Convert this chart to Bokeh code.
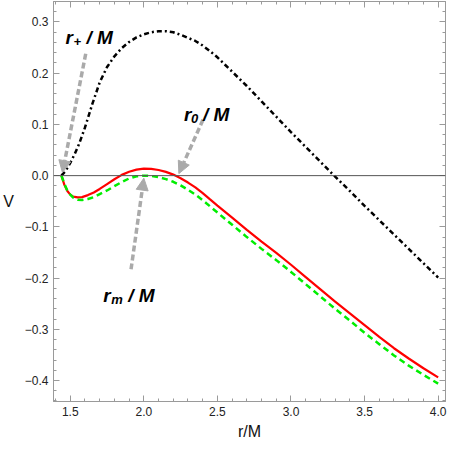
from bokeh.plotting import figure
from bokeh.models import (Range1d, LinearAxis, SingleIntervalTicker, CustomJSTickFormatter,
                          Span, Arrow, NormalHead, Label)
from bokeh.embed import file_html
from bokeh.resources import INLINE

# ---- data ----
r_black = [1.44, 1.47, 1.50, 1.53, 1.56, 1.60, 1.65, 1.70, 1.75, 1.80, 1.85, 1.90, 1.95,
           2.00, 2.05, 2.10, 2.15, 2.20, 2.25, 2.30, 2.35, 2.40, 2.45, 2.50, 2.55, 2.60,
           2.70, 2.80, 2.90, 3.00, 3.10, 3.20, 3.30, 3.40, 3.50, 3.60, 3.70, 3.80, 3.90, 4.00]
v_black = [0.000, 0.010, 0.025, 0.042, 0.062, 0.094, 0.140, 0.182, 0.212, 0.233, 0.249, 0.261, 0.270,
           0.276, 0.280, 0.282, 0.282, 0.280, 0.275, 0.269, 0.263, 0.254, 0.243, 0.231, 0.217, 0.203,
           0.175, 0.145, 0.115, 0.085, 0.056, 0.027, -0.002, -0.030, -0.059, -0.087, -0.115, -0.143, -0.171, -0.199]

r_red = [1.44, 1.46, 1.48, 1.50, 1.52, 1.55, 1.58, 1.62, 1.66, 1.70, 1.75, 1.80, 1.85, 1.90, 1.95,
         2.00, 2.05, 2.10, 2.15, 2.20, 2.25, 2.30, 2.35, 2.40, 2.45, 2.50, 2.60, 2.70, 2.80, 2.90,
         3.00, 3.10, 3.20, 3.30, 3.40, 3.50, 3.60, 3.70, 3.80, 3.90, 4.00]
v_red = [0.000, -0.018, -0.030, -0.037, -0.041, -0.0425, -0.042, -0.038, -0.033, -0.026, -0.0165, -0.007,
         0.0015, 0.0075, 0.0118, 0.0138, 0.0133, 0.011, 0.0073, 0.002, -0.005, -0.0135, -0.023, -0.0343,
         -0.0465, -0.0585, -0.082, -0.106, -0.129, -0.151, -0.174, -0.198, -0.222, -0.246, -0.269, -0.292,
         -0.315, -0.337, -0.357, -0.376, -0.394]

r_green = [1.44, 1.46, 1.48, 1.50, 1.52, 1.55, 1.58, 1.62, 1.66, 1.70, 1.75, 1.80, 1.85, 1.90, 1.95,
           2.00, 2.05, 2.10, 2.15, 2.20, 2.25, 2.30, 2.35, 2.40, 2.45, 2.50, 2.60, 2.70, 2.80, 2.90,
           3.00, 3.10, 3.20, 3.30, 3.40, 3.50, 3.60, 3.70, 3.80, 3.90, 4.00]
v_green = [0.000, -0.016, -0.029, -0.037, -0.043, -0.047, -0.0475, -0.0455, -0.042, -0.036, -0.029, -0.0205,
           -0.0125, -0.0055, -0.0013, 0.000, -0.0007, -0.003, -0.0068, -0.012, -0.019, -0.0275, -0.037,
           -0.048, -0.060, -0.072, -0.096, -0.120, -0.143, -0.165, -0.188, -0.212, -0.236, -0.260, -0.283,
           -0.307, -0.329, -0.351, -0.371, -0.389, -0.406]

x_label = "r/M"
y_label = "V"

FONT = "Liberation Sans"
FRAME = "#9a9a9a"

p = figure(width=447, height=442, output_backend="svg", toolbar_location=None,
           x_range=Range1d(1.386, 4.05), y_range=Range1d(-0.441, 0.340),
           x_axis_location=None, y_axis_location=None,
           min_border_left=0, min_border_right=2, min_border_top=1, min_border_bottom=0)
p.grid.visible = False
p.outline_line_color = FRAME
p.background_fill_color = "white"
p.border_fill_color = "white"

fmt = CustomJSTickFormatter(code="""
    var s = Math.abs(tick).toFixed(1);
    return (tick < -1e-9 ? "\\u2212" : "") + s;
""")

def make_axis(interval, show_labels, label=None):
    ax = LinearAxis(ticker=SingleIntervalTicker(interval=interval, num_minor_ticks=5))
    ax.axis_line_color = FRAME
    ax.major_tick_line_color = FRAME
    ax.minor_tick_line_color = FRAME
    ax.major_tick_in = 6
    ax.major_tick_out = 0
    ax.minor_tick_in = 3
    ax.minor_tick_out = 0
    if show_labels:
        ax.formatter = fmt
        ax.major_label_text_font = FONT
        ax.major_label_text_font_size = "12px"
        ax.major_label_text_color = "#222222"
        ax.major_label_standoff = 5
        if label:
            ax.axis_label = label
            ax.axis_label_text_font = FONT
            ax.axis_label_text_font_size = "16px"
            ax.axis_label_text_font_style = "normal"
            ax.axis_label_text_color = "#111111"
    else:
        ax.formatter = CustomJSTickFormatter(code="return '';")
        ax.major_label_text_font_size = "1px"
        ax.major_label_text_color = None
        ax.major_label_standoff = 0
    return ax

bottom = make_axis(0.5, True, x_label)
bottom.axis_label_standoff = 4
left = make_axis(0.1, True, y_label)
left.axis_label_orientation = "horizontal"
left.axis_label_standoff = 8
top = make_axis(0.5, False)
right = make_axis(0.1, False)
p.add_layout(bottom, "below")
p.add_layout(left, "left")
p.add_layout(top, "above")
p.add_layout(right, "right")

# zero axis line
p.add_layout(Span(location=0, dimension="width", line_color="#555555", line_width=1))

# curves
p.line(r_black, v_black, line_color="black", line_width=2.5, line_dash="5 3 2 3")
p.line(r_red, v_red, line_color="#ff0000", line_width=2.2)
p.line(r_green, v_green, line_color="#00ee00", line_width=2.5, line_dash="6 4")

# annotation arrows
GRAY = "#aaaaaa"
for (xs, ys, xe, ye) in [(1.605, 0.238, 1.447, 0.006),
                         (2.402, 0.109, 2.238, 0.004),
                         (1.913, -0.183, 2.000, -0.005)]:
    p.add_layout(Arrow(end=NormalHead(size=12, fill_color=GRAY, line_color=GRAY),
                       x_start=xs, y_start=ys, x_end=xe, y_end=ye,
                       line_color=GRAY, line_width=3.5, line_dash="6 3"))

def math_label(x, y, sub, sub_off, slash_off):
    common = dict(text_font=FONT, text_font_style="bold italic", text_color="black",
                  text_baseline="alphabetic", text_align="left")
    p.add_layout(Label(x=x, y=y, text="r", text_font_size="19px", **common))
    p.add_layout(Label(x=x, y=y, x_offset=sub_off, y_offset=-4, text=sub,
                       text_font_size="13px", **common))
    p.add_layout(Label(x=x, y=y, x_offset=slash_off, text="/ M", text_font_size="19px", **common))

math_label(1.468, 0.270, "+", 8, 21)
math_label(2.273, 0.119, "0", 7, 19)
math_label(1.724, -0.235, "m", 8, 25)

html = file_html(p, INLINE)
open("out.html", "w").write(html)
